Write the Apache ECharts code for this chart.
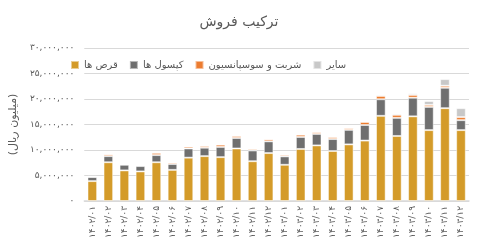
<!DOCTYPE html>
<html>
<head>
<meta charset="utf-8">
<script src="https://cdn.jsdelivr.net/npm/echarts@6/dist/echarts.min.js"></script>
<style>
  html, body { margin: 0; padding: 0; background: #fff; }
  #main { width: 478px; height: 244px; }
</style>
</head>
<body>
<div id="main"></div>
<script>
// ماه ها
var months = ['1402/01','1402/02','1402/03','1402/04','1402/05','1402/06','1402/07','1402/08','1402/09','1402/10','1402/11','1402/12',
              '1403/01','1403/02','1403/03','1403/04','1403/05','1403/06','1403/07','1403/08','1403/09','1403/10','1403/11','1403/12'];

// مقادیر (میلیون ریال)
var tablets  = [3900000, 7600000, 6000000, 5800000, 7600000, 6100000, 8500000, 8800000, 8600000, 10300000, 7800000, 9400000,
                7100000, 10200000, 10900000, 9800000, 11100000, 11850000, 16700000, 12750000, 16600000, 13900000, 18200000, 13900000];
var capsules = [800000, 1200000, 1100000, 1050000, 1400000, 1150000, 1800000, 1650000, 2000000, 2050000, 2100000, 2300000,
                1650000, 2350000, 2250000, 2350000, 2850000, 3050000, 3250000, 3550000, 3650000, 4550000, 4000000, 1950000];
var syrups   = [100000, 350000, 200000, 200000, 450000, 300000, 350000, 350000, 450000, 400000, 300000, 400000,
                300000, 450000, 350000, 400000, 350000, 600000, 650000, 600000, 550000, 400000, 400000, 600000];
var others   = [50000, 100000, 100000, 50000, 50000, 100000, 100000, 100000, 100000, 150000, 100000, 100000,
                100000, 100000, 150000, 100000, 100000, 150000, 250000, 250000, 300000, 750000, 1300000, 1750000];

var yTicks = [0, 5000000, 10000000, 15000000, 20000000, 25000000, 30000000];

var seriesNames = ['قرص ها', 'کپسول ها', 'شربت و سوسپانسیون', 'سایر'];
var colors = ['#D49B29', '#6F6F6F', '#EC7C30', '#C8C8C8'];

// تبدیل ارقام به فارسی
function toFa(s) {
  return String(s).replace(/[0-9]/g, function (d) { return '۰۱۲۳۴۵۶۷۸۹'[+d]; });
}
function fmt(v) {
  return toFa(String(v).replace(/\B(?=(\d{3})+(?!\d))/g, ','));
}

var font = 'DejaVu Sans';
var myChart = echarts.init(document.getElementById('main'));

var dataSets = [tablets, capsules, syrups, others];
var series = dataSets.map(function (d, i) {
  return {
    name: seriesNames[i],
    type: 'bar',
    stack: 'total',
    barWidth: '60%',
    itemStyle: {
      color: colors[i],
      borderColor: 'rgba(255,255,255,0.5)',
      borderWidth: 1
    },
    data: d
  };
});

var option = {
  animation: false,
  color: colors,
  textStyle: { fontFamily: font },
  title: {
    text: 'ترکیب فروش',
    left: 'center',
    top: 10,
    textStyle: { fontFamily: font, fontSize: 14, fontWeight: 'normal', color: '#595959' }
  },
  legend: {
    left: 65,
    top: 55,
    itemWidth: 8,
    itemHeight: 8,
    itemGap: 11,
    icon: 'rect',
    textStyle: { fontFamily: font, fontSize: 10, color: '#595959' },
    data: seriesNames
  },
  grid: {
    left: 71,
    right: 9,
    top: 48,
    bottom: 43
  },
  xAxis: {
    type: 'category',
    data: months.map(toFa),
    axisTick: { show: false },
    axisLine: { lineStyle: { color: '#D9D9D9', width: 1.5 } },
    axisLabel: {
      rotate: 90,
      interval: 0,
      margin: 5,
      fontFamily: font,
      fontSize: 9,
      color: '#595959'
    }
  },
  yAxis: {
    type: 'value',
    min: yTicks[0],
    max: yTicks[yTicks.length - 1],
    interval: yTicks[1] - yTicks[0],
    name: '(میلیون ریال)',
    nameLocation: 'middle',
    nameRotate: 90,
    nameGap: 60,
    nameTextStyle: { fontFamily: font, fontSize: 11, color: '#595959' },
    axisLine: { show: false },
    axisTick: { show: false },
    axisLabel: {
      margin: 10,
      fontFamily: font,
      fontSize: 9,
      color: '#595959',
      formatter: function (v) { return fmt(v); }
    },
    splitLine: { lineStyle: { color: '#D9D9D9', width: 1 } }
  },
  series: series
};

myChart.setOption(option);
</script>
</body>
</html>
